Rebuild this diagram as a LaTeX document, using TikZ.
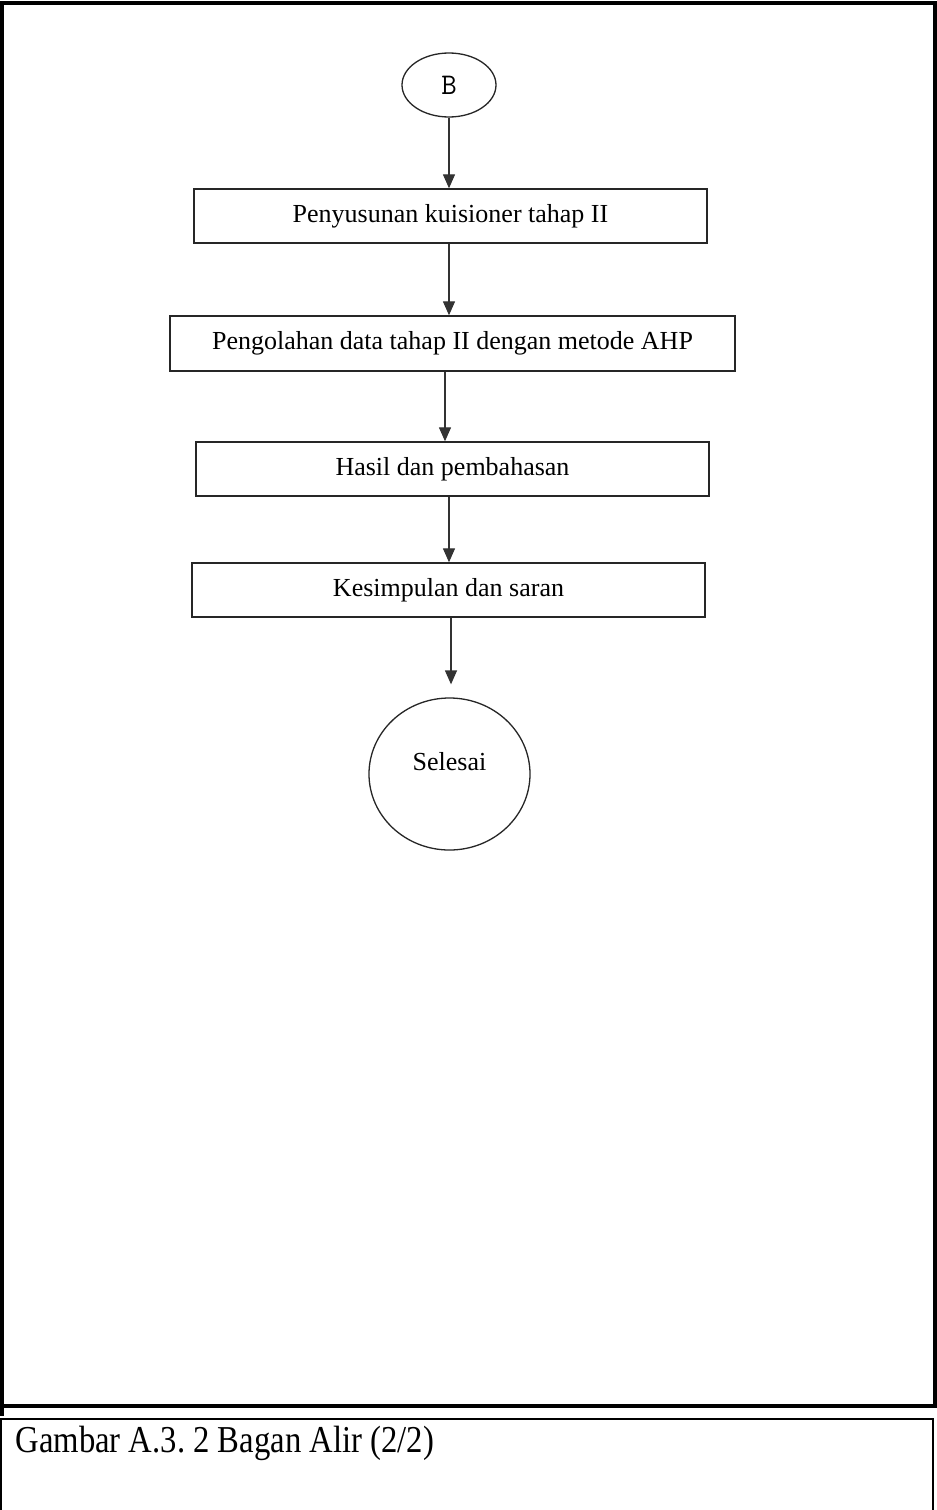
\documentclass[tikz,border=0pt]{standalone}
\usepackage{fontspec}
\setmainfont{Liberation Serif}
\usepackage{tikz}
\usetikzlibrary{calc,arrows.meta,shapes.geometric}
\frenchspacing

\begin{document}
\begin{tikzpicture}[x=1pt,y=1pt,
  kotak/.style={draw=black!85,line width=1.4pt,rectangle,minimum width=513pt,minimum height=54pt,inner sep=0pt,font=\fontsize{26}{30}\selectfont},
  bulat/.style={draw=black!85,line width=1.3pt,ellipse,inner sep=0pt},
  panah/.style={draw=black!80,line width=1.3pt,-{Triangle[length=14pt,width=12pt]}}]
\useasboundingbox (0,0) rectangle (937,-1510);
\fill[white] (0,0) rectangle (937,-1510);
\draw[line width=4pt] (2,-2.5) rectangle (935,-1406);
\draw[line width=4pt] (2,-1406) -- (2,-1416);
\draw[line width=2.5pt] (1.2,-1419) rectangle (933,-1520);
\node[anchor=west,font=\fontsize{38}{42}\selectfont] (judul) at (12,-1443) {\scalebox{0.86}[1]{Gambar A.3. 2 Bagan Alir (2/2)}};

\node[bulat,minimum width=94pt,minimum height=64pt] (B) at (449,-85) {\ttfamily\fontsize{30}{34}\selectfont B};
\node[kotak] (k1) at (450.5,-216) {Penyusunan kuisioner tahap II};
\node[kotak,minimum width=565pt,minimum height=55pt] (k2) at (452.5,-343.5) {Pengolahan data tahap II dengan metode AHP};
\node[kotak] (k3) at (452.5,-469) {Hasil dan pembahasan};
\node[kotak] (k4) at (448.5,-590) {Kesimpulan dan saran};
\node[bulat,minimum width=161pt,minimum height=152pt,
  label={[yshift=12pt,font=\fontsize{26}{30}\selectfont]center:Selesai}] (selesai) at (449.5,-774) {};

\coordinate (p1) at ($(k1.south)+(-1.5,0)$);
\coordinate (p2) at ($(k2.south)+(-7.5,0)$);
\coordinate (p3) at ($(k3.south)+(-3.5,0)$);
\coordinate (p4) at ($(k4.south)+(2.5,0)$);
\draw[panah] (B.south) -- (B.south |- k1.north);
\draw[panah] (p1) -- (p1 |- k2.north);
\draw[panah] (p2) -- (p2 |- k3.north);
\draw[panah] (p3) -- (p3 |- k4.north);
\draw[panah,shorten >=13pt] (p4) -- (p4 |- selesai.north);
\end{tikzpicture}
\end{document}
